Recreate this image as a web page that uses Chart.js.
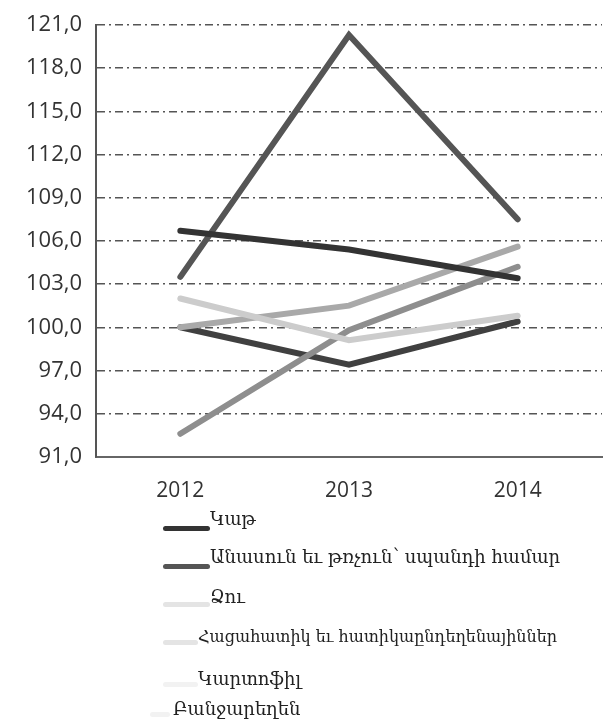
<!DOCTYPE html>
<html>
<head>
<meta charset="utf-8">
<script src="https://cdn.jsdelivr.net/npm/chart.js@4"></script>
<style>
  body { margin: 0; background: #fff; width: 606px; height: 724px; position: relative; overflow: hidden; }
  #wrap { position: absolute; left: 0; top: 0; width: 606px; height: 526px; }
  .leg { position: absolute; font-family: "DejaVu Serif", serif; font-size: 18px; color: #222; white-space: nowrap; }
  .sw { position: absolute; height: 5px; border-radius: 3px; }
</style>
</head>
<body>
<div id="wrap"><canvas id="chart" width="606" height="526"></canvas></div>
<div id="legend"></div>
<script>
// chart data
const years = ["2012", "2013", "2014"];
const seriesNames = [
  "Կաթ",
  "Անասուն եւ թռչուն՝ սպանդի համար",
  "Ձու",
  "Հացահատիկ եւ հատիկաընդեղենայիններ",
  "Կարտոֆիլ",
  "Բանջարեղեն"
];
const milk = [106.7, 105.4, 103.4];
const livestock = [103.5, 120.3, 107.5];
const eggs = [102.0, 99.1, 100.8];
const grain = [92.6, 99.8, 104.2];
const potato = [100.0, 101.5, 105.6];
const vegetables = [100.0, 97.4, 100.4];
const yTicks = [91, 94, 97, 100, 103, 106, 109, 112, 115, 118, 121];

const colors = ["#333333", "#555555", "#cccccc", "#8e8e8e", "#a9a9a9", "#404040"];
const values = [milk, livestock, eggs, grain, potato, vegetables];

const datasets = values.map((v, i) => ({
  label: seriesNames[i],
  data: v,
  borderColor: colors[i],
  borderWidth: 6,
  borderCapStyle: "round",
  borderJoinStyle: "miter",
  pointRadius: 0,
  tension: 0,
  fill: false
}));

new Chart(document.getElementById("chart"), {
  type: "line",
  data: { labels: years, datasets: datasets },
  options: {
    responsive: false,
    animation: false,
    layout: { padding: { left: 12, right: 4, top: 0, bottom: 0 } },
    plugins: { legend: { display: false }, tooltip: { enabled: false } },
    scales: {
      x: {
        offset: true,
        grid: { display: false, drawTicks: false },
        border: { color: "#666", width: 2 },
        ticks: { color: "#333", font: { family: "Open Sans", size: 21 }, padding: 22 }
      },
      y: {
        min: 91,
        max: 121,
        afterBuildTicks: (axis) => { axis.ticks = yTicks.map(v => ({ value: v })); },
        grid: { color: "#555", lineWidth: 1.5, drawTicks: false },
        border: { color: "#555", width: 2, dash: [8, 4, 2, 4] },
        ticks: {
          color: "#333",
          font: { family: "Open Sans", size: 22, lineHeight: 1.0 },
          padding: 14,
          callback: (v) => Number(v).toFixed(1).replace(".", ",")
        }
      }
    }
  }
});

// legend under the chart
const legendPos = [
  { tx: 210, ty: 508, sx: 163, sw: 47, sy: 526, fs: 18 },
  { tx: 210, ty: 546, sx: 163, sw: 47, sy: 564, fs: 18 },
  { tx: 210, ty: 586, sx: 163, sw: 47, sy: 602, fs: 18 },
  { tx: 198, ty: 627, sx: 163, sw: 35, sy: 640, fs: 16 },
  { tx: 198, ty: 668, sx: 163, sw: 35, sy: 682, fs: 18 },
  { tx: 173, ty: 698, sx: 150, sw: 20, sy: 712, fs: 18 }
];
const legend = document.getElementById("legend");
seriesNames.forEach((name, i) => {
  const p = legendPos[i];
  const s = document.createElement("div");
  s.className = "sw";
  s.style.left = p.sx + "px";
  s.style.top = p.sy + "px";
  s.style.width = p.sw + "px";
  s.style.background = i < 2 ? colors[i] : (i < 4 ? "#e4e4e4" : "#f2f2f2");
  legend.appendChild(s);
  const t = document.createElement("div");
  t.className = "leg";
  t.style.left = p.tx + "px";
  t.style.top = p.ty + "px";
  t.style.fontSize = p.fs + "px";
  t.textContent = name;
  legend.appendChild(t);
});
</script>
</body>
</html>
